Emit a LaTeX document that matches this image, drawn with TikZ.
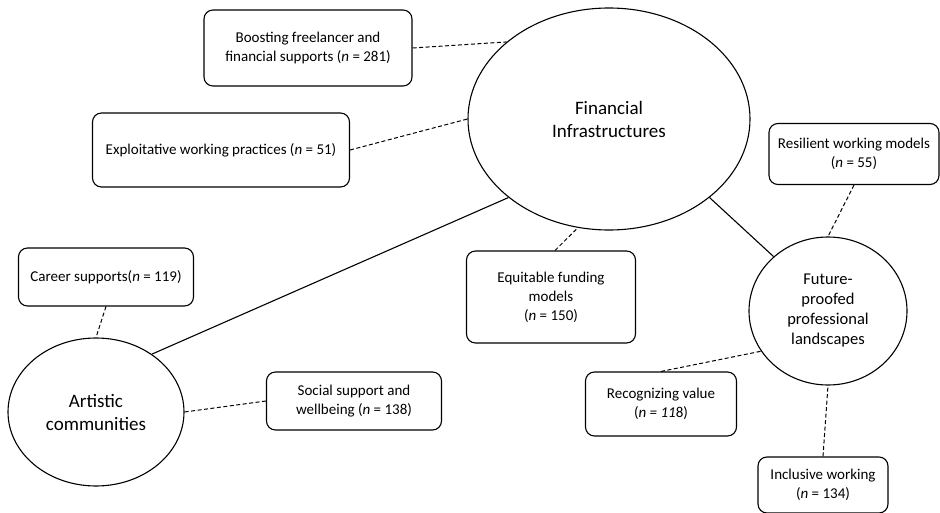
\documentclass[tikz,border=0pt]{standalone}
\usepackage{fontspec}
\setmainfont{Carlito}
\usetikzlibrary{shapes.geometric}
\tikzset{
  box/.style={draw, line width=1.1pt, rounded corners=9pt, align=center, inner sep=2pt, font=\fontsize{15}{19}\selectfont},
  hub/.style={draw, line width=1.1pt, ellipse, inner sep=0pt, align=center},
  link/.style={line width=1pt, dash pattern=on 4pt off 2.5pt},
  tie/.style={line width=1.1pt}
}
\begin{document}
\begin{tikzpicture}[x=1pt,y=-1pt]
\useasboundingbox (0,0) rectangle (940,513);
% hubs
\node[hub, minimum width=282pt, minimum height=222pt, font=\fontsize{19}{23}\selectfont] (fin) at (609,119) {Financial\\Infrastructures};
\node[hub, minimum width=158pt, minimum height=148pt, font=\fontsize{16.5}{20}\selectfont] (fut) at (828,311) {Future-\\proofed\\professional\\landscapes};
\node[hub, minimum width=176pt, minimum height=148pt, font=\fontsize{19}{23}\selectfont] (art) at (96,412) {Artistic\\communities};
% boxes
\node[box, minimum width=208pt, minimum height=76pt] (boost) at (308,48) {Boosting freelancer and\\financial supports (\textit{n} = 281)};
\node[box, minimum width=257pt, minimum height=74pt] (expl) at (221,150) {Exploitative working practices (\textit{n} = 51)};
\node[box, minimum width=170pt, minimum height=61pt] (res) at (854,154) {Resilient working models\\(\textit{n} = 55)};
\node[box, minimum width=169pt, minimum height=92pt] (equ) at (551,297) {Equitable funding\\models\\(\textit{n} = 150)};
\node[box, minimum width=151pt, minimum height=64pt] (rec) at (661,404) {Recognizing value\\(\textit{n = 11}8)};
\node[box, minimum width=130pt, minimum height=56pt] (inc) at (823,485) {Inclusive working\\(\textit{n} = 134)};
\node[box, minimum width=175pt, minimum height=58pt] (car) at (106,277) {Career supports(\textit{n} = 119)};
\node[box, minimum width=175pt, minimum height=58pt] (soc) at (354,401) {Social support and\\wellbeing (\textit{n} = 138)};
% solid ties
\draw[tie] (fin.218) -- (art.46);
\draw[tie] (fin.322) -- (fut.135);
% dashed links
\draw[link] (boost.east) -- (fin.143);
\draw[link] (expl.east) -- (fin.180);
\draw[link] ([xshift=4pt]equ.north) -- (fin.254);
\draw[link] (res.south) -- (fut.90);
\draw[link] (rec.north) -- (fut.211);
\draw[link] (inc.north) -- (fut.270);
\draw[link] (car.south) -- (art.90);
\draw[link] (soc.west) -- (art.0);
\end{tikzpicture}
\end{document}
